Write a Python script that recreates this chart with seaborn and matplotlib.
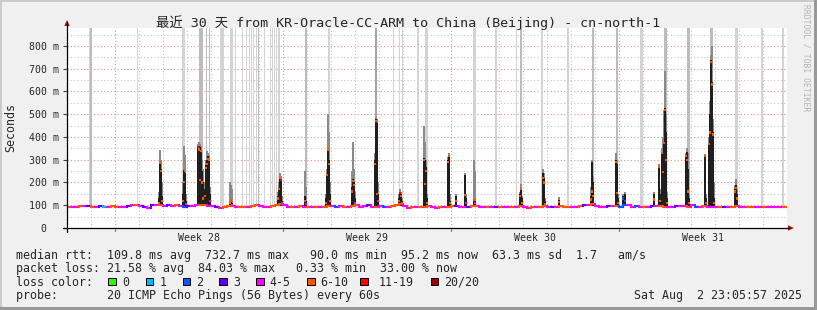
import numpy as np
import pandas as pd
import matplotlib
matplotlib.use("Agg")
import matplotlib.pyplot as plt
import seaborn as sns
from matplotlib.collections import LineCollection
from matplotlib.patches import Polygon, Rectangle
from matplotlib.lines import Line2D

# ---------------- data ----------------
title = "最近 30 天 from KR-Oracle-CC-ARM to China (Beijing) - cn-north-1"
week_labels = ["Week 28", "Week 29", "Week 30", "Week 31"]
ytick_values = [0, 100, 200, 300, 400, 500, 600, 700, 800]
ytick_labels = ["0  ", "100 m", "200 m", "300 m", "400 m", "500 m", "600 m", "700 m", "800 m"]

loss_labels = ["0", "1", "2", "3", "4-5", "6-10", "11-19", "20/20"]
loss_colors = ["#26ff00", "#00b8ff", "#0059ff", "#5e00ff", "#ff00ff", "#ff5500", "#ff0000", "#a00000"]
loss_codes = ["g", "c", "b", "p", "m", "o", "r", "d"]

# median rtt (ms) every 4 hours over 30 days
median_step_h = 4
median_ms = [
    93, 93, 93, 95, 98, 96, 93, 94, 95, 93,
    94, 96, 93, 93, 93, 97, 99, 103, 97, 92,
    90, 100, 103, 101, 97, 102, 98, 100, 96, 94,
    97, 96, 99, 100, 102, 98, 96, 92, 90, 91,
    95, 98, 92, 94, 93, 93, 96, 100, 97, 91,
    93, 97, 101, 104, 100, 92, 92, 93, 95, 93,
    94, 91, 92, 93, 92, 95, 95, 93, 96, 93,
    93, 95, 100, 93, 96, 99, 94, 93, 97, 93,
    94, 96, 100, 104, 96, 90, 91, 92, 92, 93,
    96, 93, 90, 91, 92, 93, 95, 98, 92, 94,
    93, 95, 97, 92, 92, 93, 93, 93, 92, 91,
    93, 93, 94, 95, 92, 90, 91, 92, 93, 96,
    93, 92, 93, 97, 93, 92, 93, 93, 96, 100,
    103, 107, 98, 93, 93, 96, 98, 95, 93, 100,
    102, 94, 98, 93, 93, 92, 95, 97, 96, 94,
    93, 93, 95, 98, 97, 94, 100, 93, 92, 96,
    93, 91, 92, 93, 94, 93, 94, 95, 93, 92,
    93, 93, 93, 93, 91, 91, 92, 93, 91, 93, 93,
]
median_loss = list(
    "ommompompc" "moommpmomp" "mpmompmomb" "pmmoommpmo" "oomoomoomm"
    "mooommomom" "omomoombmo" "moommpmomb" "mooommomoo" "ommomoopmm"
    "poommompom" "momommomoo" "mpmooommop" "mommmpmobb" "mmbmompmoo"
    "mmpmmombmo" "mmmopmoomm" "oommommmmoo"
)

# smoke spikes: hour from start, dark smoke top, light smoke top, median, loss code
spk_hour = [92, 93, 94, 95, 116, 117, 118, 119, 131, 132, 133, 134, 135, 136,
            138, 139, 140, 141, 142, 143, 163, 164, 165, 211, 212, 213, 214, 215,
            238, 239, 259, 260, 261, 262, 263, 285, 286, 287, 288, 308, 309, 310, 311,
            332, 333, 334, 335, 357, 358, 359, 360, 381, 382, 383, 389, 398, 399,
            407, 408, 453, 454, 455, 476, 477, 478, 492, 524, 525, 526,
            549, 550, 551, 556, 558, 587, 592, 593, 595, 596, 597, 598, 599, 600,
            619, 620, 621, 622, 638, 639, 642, 643, 644, 645, 646, 647, 668, 669, 670]
spk_dark = [130, 285, 260, 140, 150, 253, 240, 120, 360, 360, 355, 345, 250, 200,
            170, 275, 300, 315, 300, 150, 115, 120, 110, 140, 175, 225, 215, 120,
            140, 120, 130, 232, 350, 300, 150, 180, 214, 200, 130, 300, 477, 460, 150,
            130, 158, 150, 120, 306, 300, 270, 130, 300, 320, 120, 140, 232, 130,
            125, 120, 150, 175, 130, 242, 220, 120, 125, 140, 290, 200,
            298, 280, 130, 140, 151, 150, 273, 150, 332, 330, 380, 526, 420, 130,
            316, 335, 260, 130, 317, 130, 374, 500, 738, 640, 420, 130, 170, 188, 150]
spk_gray = [160, 345, 300, 200, 200, 360, 320, 150, 370, 380, 370, 360, 300, 260,
            200, 300, 340, 330, 320, 180, 200, 190, 170, 160, 200, 240, 230, 140,
            250, 180, 150, 260, 500, 420, 200, 250, 380, 260, 160, 330, 490, 480, 200,
            150, 170, 160, 130, 450, 380, 300, 150, 310, 330, 150, 150, 240, 150,
            300, 250, 160, 195, 140, 260, 240, 130, 135, 180, 300, 230,
            330, 300, 150, 150, 160, 160, 280, 170, 350, 400, 520, 690, 500, 160,
            330, 350, 330, 150, 325, 150, 400, 560, 760, 800, 480, 200, 190, 215, 170]
spk_med = [110, 285, 250, 120, 120, 203, 250, 105, 357, 345, 210, 340, 200, 130,
           140, 265, 283, 305, 300, 120, 110, 121, 100, 130, 170, 218, 210, 110,
           120, 105, 110, 232, 345, 283, 120, 160, 205, 190, 110, 280, 470, 150, 120,
           120, 155, 140, 110, 300, 195, 250, 110, 290, 315, 110, 120, 145, 110,
           125, 110, 140, 170, 110, 218, 200, 105, 115, 125, 160, 140,
           290, 155, 110, 130, 120, 125, 270, 120, 328, 245, 375, 520, 300, 110,
           316, 300, 160, 110, 315, 110, 370, 420, 730, 631, 411, 110, 160, 175, 130]
spk_loss = list("oooo" "ooom" "rooooo" "ooooom" "oom" "ooorm" "om" "ooooo" "ooom" "ooom"
                "oroo" "oooo" "ooo" "o" "om" "om" "ooo" "ooo" "o" "ooo"
                "ooo" "bb" "o" "oooooooo" "oooo" "oooooooo" "ooo")

# full-height outlier smoke lines: hour, width (hours), shade
out_hour = [22, 24, 70, 116.5, 134, 139.5, 142, 155, 164.5, 168, 175, 179, 182, 184, 186,
            189, 191, 197, 203, 205, 207, 209, 212, 239, 262, 309, 326, 332, 335, 351,
            359, 407, 429, 449, 454, 475, 501, 526, 550, 574, 598, 621, 644, 669, 695, 716]
out_width = [1, 1.5, 1, 3, 4, 1.5, 1, 4, 3, 1, 1, 1, 1, 1, 1,
             1, 1, 1, 1, 1, 1, 1, 1.5, 2, 1.5, 2, 1, 1, 1, 2,
             3, 3, 2, 1, 2, 2, 2, 2, 2.5, 3, 3, 3, 3, 3, 2, 1.5]
out_shade = list("lmllmmmllllllll" "lmllllllmldlllll" "lllmllmmlmmmlll")

stats_rtt = {"avg": 109.8, "max": 732.7, "min": 90.0, "now": 95.2, "sd": 63.3, "ams": 1.7}
stats_loss = {"avg": 21.58, "max": 84.03, "min": 0.33, "now": 33.00}
probe_text = "20 ICMP Echo Pings (56 Bytes) every 60s"
stamp_text = "Sat Aug  2 23:05:57 2025"

# ---------------- layout ----------------
W, H = 817, 310
MONO = ["DejaVu Sans Mono", "Noto Sans CJK SC"]
sns.set_theme(style="white")
plt.rcParams["font.family"] = MONO

fig = plt.figure(figsize=(W / 100, H / 100), dpi=100, facecolor="#f0f0f0")


def fx(x):
    return x / W


def fy(y):
    return 1 - y / H


# frame shading
fig.add_artist(Rectangle((0, 1 - 2 / H), 1, 2 / H, transform=fig.transFigure, color="#cbcbcb", lw=0))
fig.add_artist(Rectangle((0, 0), 2 / W, 1, transform=fig.transFigure, color="#cbcbcb", lw=0))
fig.add_artist(Rectangle((0, 0), 1, 3 / H, transform=fig.transFigure, color="#999999", lw=0))
fig.add_artist(Rectangle((1 - 3 / W, 0), 3 / W, 1, transform=fig.transFigure, color="#999999", lw=0))

X0, X1, Y0, Y1 = 67, 787, 28, 228
ax = fig.add_axes([fx(X0), fy(Y1), (X1 - X0) / W, (Y1 - Y0) / H])
ax.set_facecolor("white")
for s in ax.spines.values():
    s.set_visible(False)
TOTAL_H = 720
YTOP = 879
ax.set_xlim(0, TOTAL_H)
ax.set_ylim(0, YTOP)

# grid
dot = (0, (1, 2))
for v in range(50, YTOP, 50):
    ax.axhline(v, color="#e58e8e" if v % 100 == 0 else "#c4c4c4", lw=0.8, ls=dot, zorder=0.5)
day0 = 23.7
week0 = 47.7
for k in range(30):
    d = day0 + 24 * k
    is_major = abs(((d - week0) / 168) - round((d - week0) / 168)) < 1e-6
    ax.axvline(d, color="#e58e8e" if is_major else "#c4c4c4", lw=0.8, ls=dot, zorder=0.5)

# outlier smoke (to top)
shade_map = {"l": "#d3d3d3", "m": "#bcbcbc", "d": "#a4a4a4"}
ax.bar(out_hour, YTOP - 97, bottom=97, width=out_width,
       color=[shade_map[s] for s in out_shade], lw=0, zorder=1)

# smoke spikes
base = 96
ax.bar(spk_hour, np.array(spk_gray) - base, bottom=base, width=1.1, color="#8a8a8a", lw=0, zorder=2)
ax.bar(spk_hour, np.array(spk_dark) - base, bottom=base, width=1.1, color="#1f1f1f", lw=0, zorder=3)

# median line (stepped) colored by loss
code_to_color = dict(zip(loss_codes, loss_colors))
mh = np.arange(len(median_ms)) * median_step_h
segs, cols = [], []
for i in range(len(median_ms) - 1):
    segs.append([(mh[i], median_ms[i]), (mh[i + 1], median_ms[i])])
    cols.append(code_to_color[median_loss[i]])
    segs.append([(mh[i + 1], median_ms[i]), (mh[i + 1], median_ms[i + 1])])
    cols.append(code_to_color[median_loss[i + 1]])
lc = LineCollection(segs, colors=cols, lw=1.5, zorder=4, capstyle="projecting")
ax.add_collection(lc)

# spike medians
spk_df = pd.DataFrame({"hour": spk_hour, "med": spk_med, "loss": spk_loss})
sns.scatterplot(data=spk_df, x="hour", y="med", hue="loss", palette=code_to_color,
                marker="s", s=2.5, linewidth=0, legend=False, ax=ax, zorder=5)
ax.set_xlim(0, TOTAL_H)
ax.set_ylim(0, YTOP)
ax.set_xlabel("")
ax.set_ylabel("")

# ticks / labels
ax.set_yticks(ytick_values)
ax.set_yticklabels(ytick_labels, fontsize=7.1, family=MONO)
ax.tick_params(axis="y", length=2.9, width=0.8, color="#404040", pad=2.9, left=True, direction="out")
week_centers = [week0 + 84 + 168 * k for k in range(4)]
ax.set_xticks(week_centers)
ax.set_xticklabels(week_labels, fontsize=7.1, family=MONO)
ax.tick_params(axis="x", length=0, pad=3.6)
xt = ax.get_xaxis_transform()
for k in range(4):
    ax.plot([week0 + 168 * k] * 2, [0, -2.5 / 200], transform=xt, color="#e05050", lw=0.8, clip_on=False)

# axis lines and arrows
fig.add_artist(Line2D([fx(67), fx(67)], [fy(231.5), fy(22)], color="black", lw=0.9))
fig.add_artist(Line2D([fx(63), fx(789)], [fy(228), fy(228)], color="black", lw=0.9))
fig.add_artist(Polygon([(fx(64.3), fy(26)), (fx(69.7), fy(26)), (fx(67), fy(20))],
                       closed=True, transform=fig.transFigure, color="#9b1515", lw=0))
fig.add_artist(Polygon([(fx(788), fy(225.3)), (fx(788), fy(230.7)), (fx(794), fy(228))],
                       closed=True, transform=fig.transFigure, color="#9b1515", lw=0))

# texts
fig.text(fx(408.5), fy(27), title, ha="center", va="baseline", fontsize=9.6, family=MONO)
fig.text(fx(11), fy(127.5), "Seconds", rotation=90, ha="center", va="center", fontsize=8.4, family=MONO)
fig.text(fx(806), fy(4), "RRDTOOL / TOBI OETIKER", rotation=270, ha="center", va="top",
         fontsize=5.8, family=MONO, color="#b4b4b4")

line1 = ("median rtt:  {avg:.1f} ms avg  {max:.1f} ms max   {min:.1f} ms min  "
         "{now:.1f} ms now  {sd:.1f} ms sd  {ams:.1f}   am/s").format(**stats_rtt)
line2 = ("packet loss: {avg:.2f} % avg  {max:.2f} % max   {min:.2f} % min  "
         "{now:.2f} % now").format(**stats_loss)
LX = 15.5
LFS = 8.4
fig.text(fx(LX), fy(258.5), line1, ha="left", va="baseline", fontsize=LFS, family=MONO)
fig.text(fx(LX), fy(272), line2, ha="left", va="baseline", fontsize=LFS, family=MONO)
fig.text(fx(LX), fy(285.5), "loss color:", ha="left", va="baseline", fontsize=LFS, family=MONO)
box_x = [108, 145.5, 182.5, 219.5, 256, 307, 360, 430.5]
lab_x = [122, 159.5, 196, 233, 269.5, 320.5, 379, 444.5]
for bx, tx, lab, col in zip(box_x, lab_x, loss_labels, loss_colors):
    fig.add_artist(Rectangle((fx(bx), fy(285)), 7.5 / W, 7.5 / H, transform=fig.transFigure,
                             facecolor=col, edgecolor="black", lw=0.7))
    fig.text(fx(tx), fy(285.5), lab, ha="left", va="baseline", fontsize=LFS, family=MONO)
fig.text(fx(LX), fy(299.3), "probe:       " + probe_text, ha="left", va="baseline", fontsize=LFS, family=MONO)
fig.text(fx(801.5), fy(299.3), stamp_text, ha="right", va="baseline", fontsize=LFS, family=MONO)

fig.savefig("out.png", dpi=100, facecolor=fig.get_facecolor())
